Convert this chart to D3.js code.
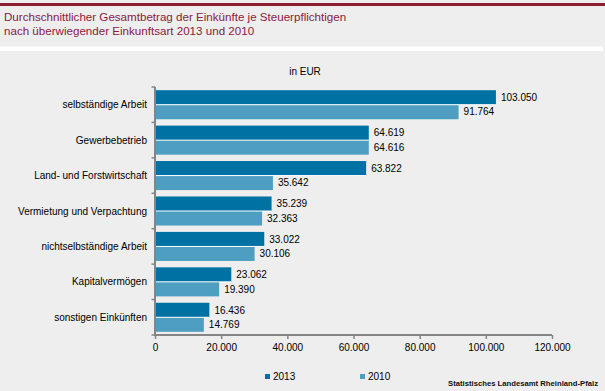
<!DOCTYPE html>
<html><head><meta charset="utf-8">
<script src="https://cdn.jsdelivr.net/npm/d3@7"></script>
<style>
html,body{margin:0;padding:0;background:#edeeed;}
svg{display:block;font-family:"Liberation Sans",Arial,sans-serif;}
</style></head>
<body>
<svg id="c" width="605" height="391"></svg>
<script>
const categories = ["selbständige Arbeit","Gewerbebetrieb","Land- und Forstwirtschaft","Vermietung und Verpachtung","nichtselbständige Arbeit","Kapitalvermögen","sonstigen Einkünften"];
const series = ["2013","2010"];
const values2013 = [103050, 64619, 63822, 35239, 33022, 23062, 16436];
const values2010 = [91764, 64616, 35642, 32363, 30106, 19390, 14769];
const xTicks = [0, 20000, 40000, 60000, 80000, 100000, 120000];
const titleLines = ["Durchschnittlicher Gesamtbetrag der Einkünfte je Steuerpflichtigen","nach überwiegender Einkunftsart 2013 und 2010"];
const unitLabel = "in EUR";
const sourceLabel = "Statistisches Landesamt Rheinland-Pfalz";

const colors = {"2013":"#0071a3","2010":"#4d9ec0"};
const fmt = v => d3.format(",")(v).replace(/,/g,".");

const svg = d3.select("#c");
// header
svg.append("rect").attr("x",0).attr("y",0).attr("width",605).attr("height",391).attr("fill","#edeeed");
svg.append("rect").attr("x",0).attr("y",3).attr("width",605).attr("height",3).attr("fill","#8a1c34");
svg.append("rect").attr("x",0).attr("y",46.5).attr("width",603).attr("height",4.5).attr("fill","#ffffff");
svg.selectAll("text.title").data(titleLines).join("text").attr("class","title")
  .attr("x",4).attr("y",(d,i)=>21+i*14).attr("fill","#8b1a3e").attr("font-size","11.6px").text(d=>d);
svg.append("text").attr("x",305).attr("y",75).attr("text-anchor","middle").attr("font-size","10px").attr("fill","#000").text(unitLabel);

const x = d3.scaleLinear().domain([0,120000]).range([155,552]);
const y = d3.scaleBand().domain(categories).range([87,335]).padding(0);
const y1 = d3.scaleBand().domain(series).range([0,y.bandwidth()]).paddingInner(0).paddingOuter(0.22);

const data = categories.map((c,i)=>({cat:c, vals:[{s:"2013",v:values2013[i]},{s:"2010",v:values2010[i]}]}));

const g = svg.append("g");
const groups = g.selectAll("g.cat").data(data).join("g").attr("class","cat")
  .attr("transform",d=>`translate(0,${y(d.cat)})`);
groups.selectAll("rect.bar").data(d=>d.vals).join("rect").attr("class","bar")
  .attr("x",x(0)).attr("y",d=>y1(d.s)).attr("width",d=>x(d.v)-x(0)).attr("height",y1.bandwidth())
  .attr("fill",d=>colors[d.s]);
// white separator between the two bars
groups.append("rect").attr("x",x(0)).attr("y",y1("2010")-0.5)
  .attr("width",d=>x(d3.max(d.vals,v=>v.v))-x(0)).attr("height",1).attr("fill","#ffffff");
groups.selectAll("text.val").data(d=>d.vals).join("text").attr("class","val")
  .attr("x",d=>x(d.v)+5).attr("y",d=>y1(d.s)+y1.bandwidth()/2+3.5)
  .attr("font-size","10px").attr("fill","#000").text(d=>fmt(d.v));

// axes
const yAxis = svg.append("g").attr("transform",`translate(${x(0)},0)`);
yAxis.append("line").attr("x1",0).attr("x2",0).attr("y1",y.range()[0]).attr("y2",y.range()[1]+1).attr("stroke","#858585").attr("stroke-width",2);
const bounds = categories.map(c=>y(c)).concat([y.range()[1]]);
yAxis.selectAll("line.tk").data(bounds).join("line").attr("class","tk")
  .attr("x1",-3.5).attr("x2",0).attr("y1",d=>d).attr("y2",d=>d).attr("stroke","#858585").attr("stroke-width",1.5);
svg.selectAll("text.cat").data(categories).join("text").attr("class","cat")
  .attr("x",147).attr("y",d=>y(d)+y.bandwidth()/2+3.5).attr("text-anchor","end")
  .attr("font-size","10px").attr("fill","#000").text(d=>d);

const xAxis = svg.append("g").attr("transform",`translate(0,${y.range()[1]})`)
  .call(d3.axisBottom(x).tickValues(xTicks).tickSize(4).tickPadding(5).tickFormat(fmt));
xAxis.select(".domain").attr("stroke","#858585").attr("stroke-width",2).attr("d",`M${x(0)},0H${x(120000)}`);
xAxis.selectAll(".tick line").attr("stroke","#858585").attr("stroke-width",1.5);
xAxis.selectAll(".tick text").attr("font-size","10px").attr("fill","#000").attr("font-family","'Liberation Sans',Arial,sans-serif");

// legend
const lx = [265, 360];
const leg = svg.selectAll("g.leg").data(series).join("g").attr("class","leg")
  .attr("transform",(d,i)=>`translate(${lx[i]},374)`);
leg.append("rect").attr("width",5).attr("height",5).attr("fill",d=>colors[d]);
leg.append("text").attr("x",8).attr("y",6).attr("font-size","10px").attr("fill","#000").text(d=>d);

svg.append("text").attr("x",448).attr("y",386).attr("font-size","8px").attr("font-weight","bold").attr("fill","#111")
  .attr("textLength",150).attr("lengthAdjust","spacingAndGlyphs").text(sourceLabel);
</script>
</body></html>
